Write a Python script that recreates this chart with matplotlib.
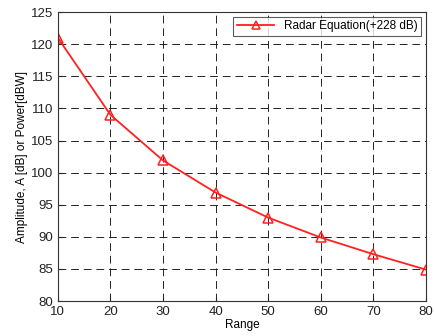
import matplotlib.pyplot as plt

plt.rcParams['font.family'] = ['Liberation Sans', 'DejaVu Sans']

ranges = [10, 20, 30, 40, 50, 60, 70, 80]
amplitude = [121.0, 109.0, 101.9, 96.9, 93.0, 89.9, 87.3, 84.9]

fig = plt.figure(figsize=(4.35, 3.36), dpi=100)
ax = fig.add_axes([0.133, 0.104, 0.846, 0.86])

ax.plot(ranges, amplitude, color='#ff2020', linewidth=1.3, marker='^',
        markersize=7, markerfacecolor='none', markeredgecolor='#ff2020',
        markeredgewidth=1.1, label='Radar Equation(+228 dB)')

ax.set_xlim(10, 80)
ax.set_ylim(80, 125)
ax.set_xticks(range(10, 81, 10))
ax.set_yticks(range(80, 126, 5))
ax.grid(True, color='#222222', linestyle=(0, (8, 5)), linewidth=0.7)
ax.tick_params(direction='in', labelsize=9.5, length=3, colors='#222222')
for s in ax.spines.values():
    s.set_color('#333333')
    s.set_linewidth(0.8)

ax.set_xlabel('Range', fontsize=8.5, labelpad=1)
ax.set_ylabel('Amplitude, A [dB] or Power[dBW]', fontsize=8.5, labelpad=2)

leg = ax.legend(loc='upper right', fontsize=8.5, frameon=True, fancybox=False,
                borderpad=0.3, handlelength=3.2, borderaxespad=0.4,
                markerscale=0.8)
leg.get_frame().set_edgecolor('#333333')
leg.get_frame().set_linewidth(0.8)

fig.savefig('out.png', dpi=100)
